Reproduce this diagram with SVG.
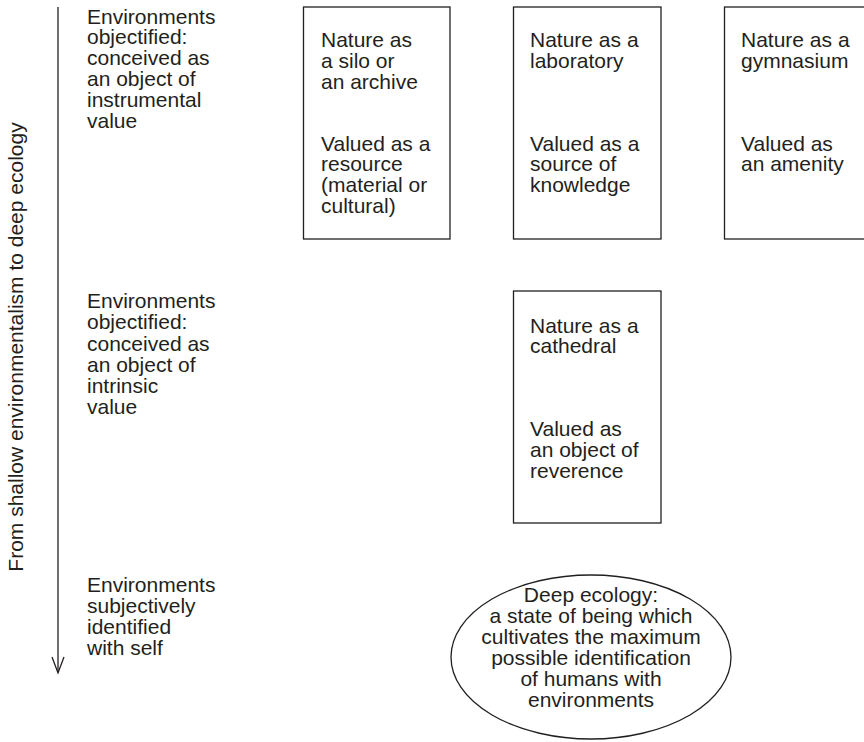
<svg xmlns="http://www.w3.org/2000/svg" width="864" height="742" viewBox="0 0 864 742">
<style>
text{font-family:"Liberation Sans",Arial,sans-serif;font-size:21px;fill:#231f20}
.box{fill:#fff;stroke:#231f20;stroke-width:1.3}
.c{text-anchor:middle}
</style>
<defs>
<marker id="open" markerWidth="14" markerHeight="20" refX="6" refY="16" orient="auto-start-reverse" markerUnits="userSpaceOnUse" viewBox="0 0 12 18">
<path d="M0.5,0 L6,16 L11.5,0" fill="none" stroke="#231f20" stroke-width="1.3"/>
</marker>
</defs>
<rect width="864" height="742" fill="#fff"/>
<g id="connectors">
<line x1="58" y1="7" x2="58" y2="672" stroke="#231f20" stroke-width="1.3"/>
<path d="M52,657 L58,673 L64,657" fill="none" stroke="#231f20" stroke-width="1.3"/>
</g>
<g id="axis-label">
<text class="c" transform="translate(23,347) rotate(-90)">From shallow environmentalism to deep ecology</text>
</g>
<g id="level1">
<text x="87"><tspan x="87" y="23.5">Environments</tspan><tspan x="87" y="44.4">objectified:</tspan><tspan x="87" y="65.3">conceived as</tspan><tspan x="87" y="86.2">an object of</tspan><tspan x="87" y="107.1">instrumental</tspan><tspan x="87" y="128">value</tspan></text>
</g>
<g id="level2">
<text x="87"><tspan x="87" y="308.3">Environments</tspan><tspan x="87" y="329.4">objectified:</tspan><tspan x="87" y="350.5">conceived as</tspan><tspan x="87" y="371.6">an object of</tspan><tspan x="87" y="392.7">intrinsic</tspan><tspan x="87" y="413.8">value</tspan></text>
</g>
<g id="level3">
<text x="87"><tspan x="87" y="592">Environments</tspan><tspan x="87" y="613">subjectively</tspan><tspan x="87" y="634">identified</tspan><tspan x="87" y="655">with self</tspan></text>
</g>
<g id="silo">
<rect class="box" x="303.5" y="7" width="146.5" height="232"/>
<text><tspan x="321" y="47">Nature as</tspan><tspan x="321" y="67.8">a silo or</tspan><tspan x="321" y="88.6">an archive</tspan><tspan x="321" y="150.5">Valued as a</tspan><tspan x="321" y="171.3">resource</tspan><tspan x="321" y="192.1">(material or</tspan><tspan x="321" y="212.9">cultural)</tspan></text>
</g>
<g id="laboratory">
<rect class="box" x="513.5" y="7" width="147.5" height="232"/>
<text><tspan x="530" y="47">Nature as a</tspan><tspan x="530" y="67.8">laboratory</tspan><tspan x="530" y="150.5">Valued as a</tspan><tspan x="530" y="171.3">source of</tspan><tspan x="530" y="192.1">knowledge</tspan></text>
</g>
<g id="gymnasium">
<rect class="box" x="724.5" y="7" width="150" height="232"/>
<text><tspan x="741" y="47">Nature as a</tspan><tspan x="741" y="67.8">gymnasium</tspan><tspan x="741" y="150.5">Valued as</tspan><tspan x="741" y="171.3">an amenity</tspan></text>
</g>
<g id="cathedral">
<rect class="box" x="513.5" y="291" width="147.5" height="232"/>
<text><tspan x="530" y="332.5">Nature as a</tspan><tspan x="530" y="353.3">cathedral</tspan><tspan x="530" y="436">Valued as</tspan><tspan x="530" y="456.8">an object of</tspan><tspan x="530" y="477.6">reverence</tspan></text>
</g>
<g id="deep-ecology">
<ellipse class="box" cx="591" cy="657" rx="140" ry="82"/>
<text class="c"><tspan x="591" y="602">Deep ecology:</tspan><tspan x="591" y="623">a state of being which</tspan><tspan x="591" y="644">cultivates the maximum</tspan><tspan x="591" y="665">possible identification</tspan><tspan x="591" y="686">of humans with</tspan><tspan x="591" y="707">environments</tspan></text>
</g>
</svg>
